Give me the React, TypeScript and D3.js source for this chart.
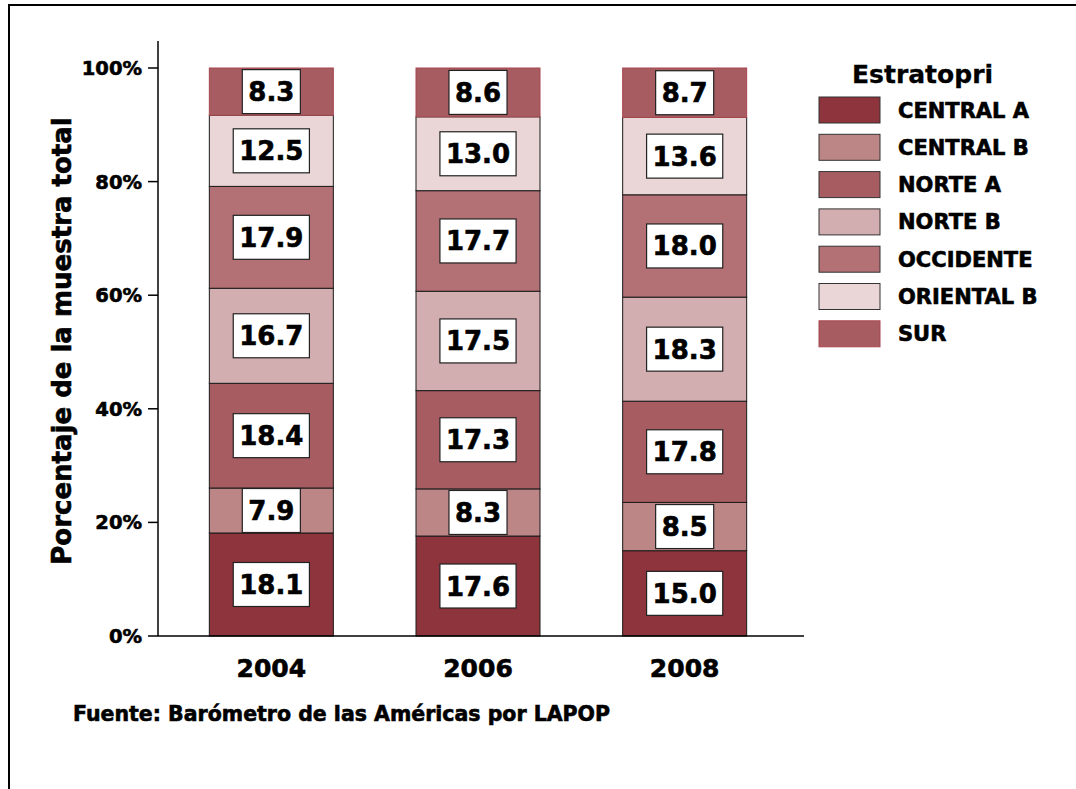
import React, { useEffect, useRef } from 'react'
import * as d3 from 'd3'

const years = ['2004', '2006', '2008']
const strata = ['CENTRAL A', 'CENTRAL B', 'NORTE A', 'NORTE B', 'OCCIDENTE', 'ORIENTAL B', 'SUR']
const centralA = [18.1, 17.6, 15.0]
const centralB = [7.9, 8.3, 8.5]
const norteA = [18.4, 17.3, 17.8]
const norteB = [16.7, 17.5, 18.3]
const occidente = [17.9, 17.7, 18.0]
const orientalB = [12.5, 13.0, 13.6]
const sur = [8.3, 8.6, 8.7]
const yTicks = [0, 20, 40, 60, 80, 100]
const colors = ['#8e343c', '#bd8686', '#a65c61', '#d3aeb0', '#b37075', '#ead6d6', '#a65c61']

const FONT = '"DejaVu Sans", sans-serif'

export default function App() {
    const ref = useRef<SVGSVGElement | null>(null)

    const width = 1076
    const height = 789

    // heavy text, a bit bolder than plain bold
    function label(sel: any, size: number) {
        return sel
            .style('font-family', FONT)
            .style('font-weight', 'bold')
            .style('font-size', size + 'px')
            .attr('stroke', '#000')
            .attr('stroke-width', 0.6)
    }

    function draw() {
        const svg = d3.select(ref.current)
        svg.selectAll('*').remove()

        // frame (only top and left edges are visible in the window)
        svg.append('path')
            .attr('d', 'M9,800 L9,5 L1100,5')
            .attr('fill', 'none')
            .attr('stroke', '#000')
            .attr('stroke-width', 2)

        const series = [centralA, centralB, norteA, norteB, occidente, orientalB, sur]
        const rows = years.map((yr, i) => {
            const r: any = { year: yr }
            strata.forEach((s, j) => { r[s] = series[j][i] })
            return r
        })

        const stacked = d3.stack<any>()
            .keys(strata)
            .offset(d3.stackOffsetExpand)(rows)

        const x = d3.scaleBand()
            .domain(years)
            .range([168, 788])
            .paddingInner(0.4)
            .paddingOuter(0.2)

        const y = d3.scaleLinear()
            .domain([0, 1])
            .range([636, 68])

        const g = svg.append('g')

        // segments
        stacked.forEach((layer, j) => {
            g.selectAll(null)
                .data(layer)
                .enter().append('rect')
                .attr('x', (d: any) => x(d.data.year)!)
                .attr('width', x.bandwidth())
                .attr('y', (d: any) => y(d[1]))
                .attr('height', (d: any) => y(d[0]) - y(d[1]))
                .attr('fill', colors[j])
                .attr('stroke', j === strata.length - 1 ? '#a8474f' : '#1a1a1a')
                .attr('stroke-width', 1)
        })

        // value labels with white boxes
        stacked.forEach((layer, j) => {
            layer.forEach((d: any) => {
                const cx = x(d.data.year)! + x.bandwidth() / 2
                const cy = (y(d[0]) + y(d[1])) / 2
                const lg = g.append('g')
                const box = lg.append('rect')
                    .attr('fill', '#fff')
                    .attr('stroke', '#222')
                    .attr('stroke-width', 1.2)
                const t = label(lg.append('text'), 26)
                    .attr('x', cx)
                    .attr('y', cy + 9.5)
                    .attr('text-anchor', 'middle')
                    .text(series[j][years.indexOf(d.data.year)].toFixed(1))
                const w = (t.node() as SVGTextElement).getComputedTextLength()
                box.attr('x', cx - w / 2 - 6)
                    .attr('width', w + 12)
                    .attr('y', cy - 22)
                    .attr('height', 44)
            })
        })

        // y axis
        svg.append('line')
            .attr('x1', 158).attr('x2', 158)
            .attr('y1', 41).attr('y2', 636)
            .attr('stroke', '#000').attr('stroke-width', 1.5)
        yTicks.forEach(v => {
            const ty = y(v / 100)
            svg.append('line')
                .attr('x1', 148).attr('x2', 158)
                .attr('y1', ty).attr('y2', ty)
                .attr('stroke', '#000').attr('stroke-width', 1.5)
            label(svg.append('text'), 19.5)
                .attr('x', 142)
                .attr('y', ty + 7)
                .attr('text-anchor', 'end')
                .text(v + '%')
        })

        // x axis
        svg.append('line')
            .attr('x1', 158).attr('x2', 804)
            .attr('y1', 636).attr('y2', 636)
            .attr('stroke', '#000').attr('stroke-width', 1.5)
        years.forEach(yr => {
            label(svg.append('text'), 25)
                .attr('x', x(yr)! + x.bandwidth() / 2)
                .attr('y', 677)
                .attr('text-anchor', 'middle')
                .text(yr)
        })

        // y title
        label(svg.append('text'), 26)
            .attr('transform', 'translate(71,341) rotate(-90)')
            .attr('text-anchor', 'middle')
            .text('Porcentaje de la muestra total')

        // source
        label(svg.append('text'), 20.5)
            .attr('x', 73)
            .attr('y', 721)
            .text('Fuente: Barómetro de las Américas por LAPOP')

        // legend
        const leg = svg.append('g')
        label(leg.append('text'), 25)
            .attr('x', 852)
            .attr('y', 83)
            .attr('stroke-width', 0.3)
            .text('Estratopri')
        strata.forEach((s, j) => {
            const top = 97 + j * 37.3
            leg.append('rect')
                .attr('x', 819).attr('y', top)
                .attr('width', 61).attr('height', 26)
                .attr('fill', colors[j])
                .attr('stroke', j === strata.length - 1 ? '#a8474f' : '#333')
                .attr('stroke-width', 1)
            label(leg.append('text'), 21)
                .attr('x', 898)
                .attr('y', top + 20.5)
                .text(s)
        })
    }

    useEffect(() => {
        draw()
    }, [])

    return (
        <svg ref={ref} width={width} height={height}
            style={{ position: 'absolute', left: 0, top: 0, background: '#fff' }} />
    )
}
